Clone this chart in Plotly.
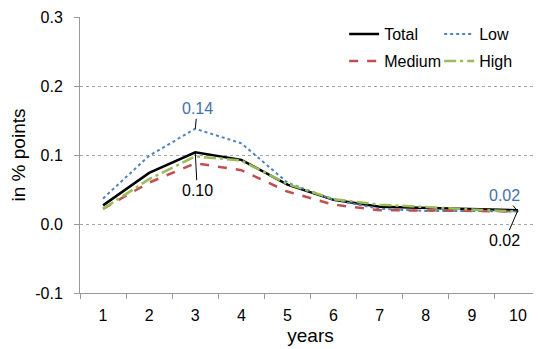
import plotly.graph_objects as go

# years after shock
years = ["1", "2", "3", "4", "5", "6", "7", "8", "9", "10"]

# responses in % points
total = [0.027, 0.074, 0.104, 0.093, 0.057, 0.035, 0.025, 0.023, 0.022, 0.020]
low = [0.037, 0.099, 0.138, 0.117, 0.060, 0.035, 0.022, 0.019, 0.019, 0.018]
medium = [0.022, 0.060, 0.088, 0.078, 0.047, 0.028, 0.020, 0.020, 0.019, 0.018]
high = [0.022, 0.065, 0.098, 0.092, 0.058, 0.036, 0.028, 0.024, 0.021, 0.018]

y_ticks = [-0.1, 0.0, 0.1, 0.2, 0.3]
y_ticktext = ["-0.1", "0.0", "0.1", "0.2", "0.3"]

font_main = "Liberation Sans, Arial, sans-serif"
blue_txt = "#4470A8"
axis_grey = "#999999"

fig = go.Figure()

fig.add_trace(go.Scatter(x=years, y=total, name="Total", mode="lines",
                         line=dict(color="black", width=2.5), legend="legend"))
fig.add_trace(go.Scatter(x=years, y=low, name="Low", mode="lines",
                         line=dict(color="#4F81BD", width=2, dash="dot"), legend="legend"))
fig.add_trace(go.Scatter(x=years, y=medium, name="Medium", mode="lines",
                         line=dict(color="#C0504D", width=2.5, dash="dash"), legend="legend2"))
fig.add_trace(go.Scatter(x=years, y=high, name="High", mode="lines",
                         line=dict(color="#9BBB59", width=2.5, dash="12px,4px,3px,4px"),
                         legend="legend2"))

# labels at year 3 and year 10 (category index positions)
i3 = years.index("3")
i10 = years.index("10")
fig.add_annotation(x=i3, y=low[i3], text="0.14", showarrow=True, arrowhead=0,
                   arrowwidth=1, arrowcolor="black", ax=2, ay=-20,
                   font=dict(color=blue_txt, size=16))
fig.add_annotation(x=i3, y=total[i3], text="0.10", showarrow=True, arrowhead=0,
                   arrowwidth=1, arrowcolor="black", ax=2, ay=38,
                   font=dict(color="black", size=16))
fig.add_annotation(x=i10, y=low[i10], text="0.02", showarrow=True, arrowhead=0,
                   arrowwidth=1, arrowcolor="black", ax=-13, ay=-16,
                   font=dict(color=blue_txt, size=16))
fig.add_annotation(x=i10, y=total[i10], text="0.02", showarrow=True, arrowhead=0,
                   arrowwidth=1, arrowcolor="black", ax=-13, ay=30,
                   font=dict(color="black", size=16))

legend_style = dict(orientation="h", xanchor="left", yanchor="top",
                    entrywidth=50, bgcolor="rgba(0,0,0,0)",
                    font=dict(size=16, color="black"), tracegroupgap=0,
                    itemwidth=30)

# the page body adds an 8px offset, so the figure is sized 8px smaller
fig.update_layout(
    width=533, height=341,
    margin=dict(l=72, r=0, t=9, b=56),
    paper_bgcolor="white", plot_bgcolor="white",
    font=dict(family=font_main, size=16, color="black"),
    showlegend=True,
    legend=dict(x=0.573, y=1.0, **legend_style),
    legend2=dict(x=0.573, y=0.902, **legend_style),
    xaxis=dict(
        type="category", range=[-0.5, 9.5], tickson="boundaries",
        ticks="outside", ticklen=5, tickcolor=axis_grey,
        showline=True, linecolor=axis_grey, linewidth=1,
        showgrid=False, title=dict(text="years", standoff=5),
        tickfont=dict(size=16), ticklabelstandoff=8, automargin=False,
    ),
    yaxis=dict(
        range=[-0.1, 0.3], tickvals=y_ticks, ticktext=y_ticktext,
        showline=True, linecolor=axis_grey, linewidth=1,
        ticks="outside", ticklen=5, tickcolor=axis_grey,
        showgrid=True, gridcolor="#A6A6A6", griddash="dot", gridwidth=1,
        zeroline=False, title=dict(text="in % points", standoff=10),
        tickfont=dict(size=16), ticklabelstandoff=8, automargin=False,
    ),
)

fig.write_html("out.html")
